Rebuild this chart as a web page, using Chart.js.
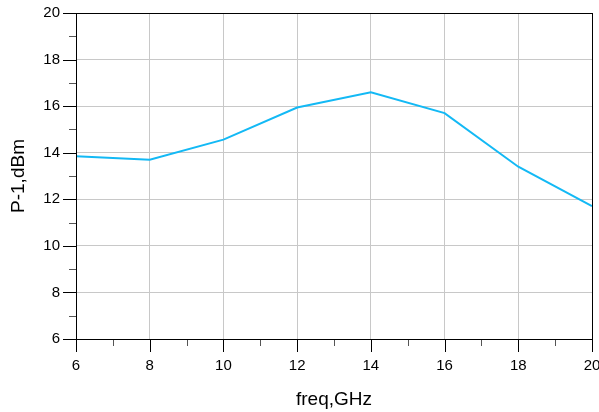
<!DOCTYPE html>
<html>
<head>
<meta charset="utf-8">
<script src="https://cdn.jsdelivr.net/npm/chart.js@4/dist/chart.umd.min.js"></script>
<style>
  html, body { margin: 0; padding: 0; background: #fff; }
  #wrap { width: 599px; height: 412px; }
</style>
</head>
<body>
<div id="wrap"><canvas id="c" width="599" height="412"></canvas></div>
<script>
// Output 1 dB compression point versus frequency
const freqGHz = [6, 8, 10, 12, 14, 16, 18, 20];
const p1dBm = [13.85, 13.70, 14.56, 15.94, 16.60, 15.70, 13.40, 11.71];
const xTicks = [6, 8, 10, 12, 14, 16, 18, 20];
const yTicks = [6, 8, 10, 12, 14, 16, 18, 20];
const xMinor = [7, 9, 11, 13, 15, 17, 19];
const yMinor = [7, 9, 11, 13, 15, 17, 19];

const FONT = 'Liberation Sans, Arial, Helvetica, sans-serif';

// Frame around the plot area plus outward major / minor tick marks
const framePlugin = {
  id: 'frame',
  afterDraw(chart) {
    const { ctx, chartArea: a, scales } = chart;
    const xs = scales.x, ys = scales.y;
    ctx.save();
    ctx.lineWidth = 1;
    // minor ticks
    ctx.strokeStyle = '#555';
    ctx.beginPath();
    xMinor.forEach(v => {
      const px = Math.round(xs.getPixelForValue(v)) + 0.5;
      ctx.moveTo(px, a.bottom); ctx.lineTo(px, a.bottom + 7);
    });
    yMinor.forEach(v => {
      const py = Math.round(ys.getPixelForValue(v)) + 0.5;
      ctx.moveTo(a.left, py); ctx.lineTo(a.left - 7, py);
    });
    ctx.stroke();
    // major ticks
    ctx.strokeStyle = '#000';
    ctx.beginPath();
    xTicks.forEach(v => {
      const px = Math.round(xs.getPixelForValue(v)) + 0.5;
      ctx.moveTo(px, a.bottom); ctx.lineTo(px, a.bottom + 13);
    });
    yTicks.forEach(v => {
      const py = Math.round(ys.getPixelForValue(v)) + 0.5;
      ctx.moveTo(a.left, py); ctx.lineTo(a.left - 13, py);
    });
    ctx.stroke();
    // frame
    ctx.strokeStyle = '#000';
    ctx.strokeRect(Math.round(a.left) + 0.5, Math.round(a.top) + 0.5,
                   Math.round(a.right - a.left), Math.round(a.bottom - a.top));
    ctx.restore();
  }
};

new Chart(document.getElementById('c'), {
  type: 'line',
  data: {
    datasets: [{
      data: freqGHz.map((f, i) => ({ x: f, y: p1dBm[i] })),
      borderColor: '#13b9f5',
      borderWidth: 2,
      pointRadius: 0,
      tension: 0,
      fill: false
    }]
  },
  options: {
    responsive: false,
    animation: false,
    devicePixelRatio: 1,
    layout: { padding: { top: 13, right: 7, left: 0, bottom: 0 } },
    plugins: { legend: { display: false }, tooltip: { enabled: false } },
    scales: {
      x: {
        type: 'linear',
        min: 6, max: 20,
        afterBuildTicks: s => { s.ticks = xTicks.map(v => ({ value: v })); },
        afterFit: s => { s.height = 73; s.paddingLeft = 0; s.paddingRight = 0; },
        grid: { color: '#c8c8c8', drawTicks: false, lineWidth: 1 },
        border: { display: false },
        ticks: { color: '#000', padding: 18, maxRotation: 0, autoSkip: false,
                 font: { family: FONT, size: 15 } },
        title: { display: true, text: 'freq,GHz', color: '#000',
                 font: { family: FONT, size: 19 }, padding: { top: 0, bottom: 1 } }
      },
      y: {
        min: 6, max: 20,
        afterBuildTicks: s => { s.ticks = yTicks.map(v => ({ value: v })); },
        afterFit: s => { s.width = 76; s.paddingTop = 0; s.paddingBottom = 0; },
        grid: { color: '#c8c8c8', drawTicks: false, lineWidth: 1 },
        border: { display: false },
        ticks: { color: '#000', padding: 16, autoSkip: false,
                 font: { family: FONT, size: 15 } },
        title: { display: true, text: 'P-1,dBm', color: '#000',
                 font: { family: FONT, size: 19 }, padding: { top: 7, bottom: 0 } }
      }
    }
  },
  plugins: [framePlugin]
});
</script>
</body>
</html>
